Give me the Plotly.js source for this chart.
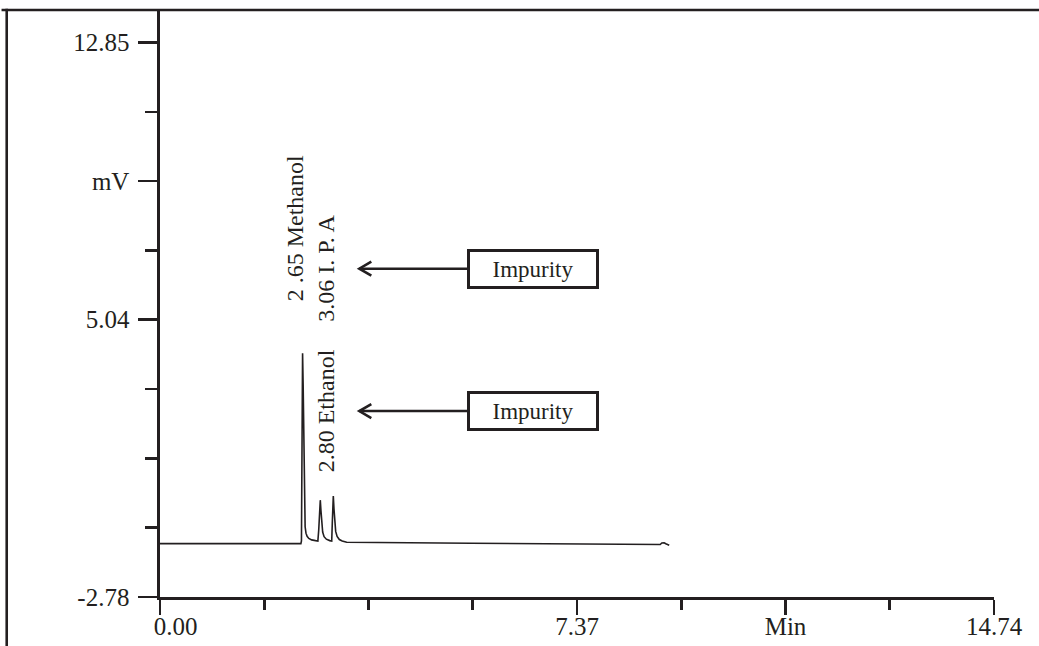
<!DOCTYPE html>
<html>
<head>
<meta charset="utf-8">
<script src="https://cdn.plot.ly/plotly-3.0.1.min.js"></script>
<style>
  html, body { margin: 0; padding: 0; background: #ffffff; }
  #chart { width: 1039px; height: 646px; }
</style>
</head>
<body>
<div id="chart"></div>
<script>
// Chromatogram trace: retention time (min) and detector signal (mV)
const timeMin = [
  0.00, 2.49,
  2.50, 2.505, 2.515, 2.52,
  2.53, 2.545, 2.555, 2.565, 2.58, 2.60, 2.63, 2.68, 2.75, 2.79,
  2.805, 2.82, 2.833, 2.845, 2.86, 2.875, 2.90, 2.94, 3.00, 3.035,
  3.045, 3.055, 3.063, 3.075, 3.09, 3.105, 3.13, 3.17, 3.22, 3.30,
  5.50, 7.80, 8.78, 8.84, 8.87, 8.91, 8.94, 8.98, 9.00
];
const signalMv = [
  -1.275, -1.275,
  -1.20, 1.00, 3.60, 4.09,
  3.20, 0.50, -0.40, -0.80, -0.98, -1.07, -1.13, -1.17, -1.19, -1.20,
  -0.90, -0.30, -0.05, -0.35, -0.75, -0.95, -1.08, -1.15, -1.19, -1.20,
  -0.70, -0.10, 0.07, -0.30, -0.72, -0.93, -1.07, -1.16, -1.20, -1.235,
  -1.265, -1.295, -1.32, -1.30, -1.255, -1.25, -1.28, -1.32, -1.32
];

// Axis ticks
const yMajorVals = [-2.78, 5.04, 8.945, 12.85];
const yMajorText = ['-2.78', '5.04', 'mV', '12.85'];
const yMinorVals = [-0.825, 1.13, 3.085, 6.9925, 10.8975];
const xMajorVals = [0.00, 7.37, 11.055, 14.74];
const xMajorText = ['\u00a0\u00a0\u00a0\u00a0\u00a00.00', '7.37', 'Min', '14.74'];
const xMinorVals = [1.8425, 3.685, 5.5275, 9.2125, 12.8975];

// Peak labels
const peakLabels = ['2 .65 Methanol', '3.06 I. P. A', '2.80 Ethanol'];
const peakLabelX = [2.386, 2.943, 2.934];
const peakLabelY = [7.615, 6.487, 2.455];

// Impurity call-outs
const calloutText = ['Impurity', 'Impurity'];
const calloutBoxX = 6.589;
const calloutTipX = 3.523;
const calloutY = [6.475, 2.463];

const ink = '#231f20';
const serif = '"Liberation Serif", "Times New Roman", serif';

const trace = {
  x: timeMin,
  y: signalMv,
  type: 'scatter',
  mode: 'lines',
  line: { color: ink, width: 1.6, shape: 'linear' },
  hoverinfo: 'skip'
};

const annotations = [];
peakLabels.forEach((t, i) => {
  annotations.push({
    x: peakLabelX[i], y: peakLabelY[i], xref: 'x', yref: 'y',
    text: t, showarrow: false, textangle: -90,
    xanchor: 'center', yanchor: 'middle',
    font: { family: serif, size: 24, color: ink }
  });
});
calloutText.forEach((t, i) => {
  annotations.push({
    x: calloutTipX, y: calloutY[i], xref: 'x', yref: 'y',
    ax: calloutBoxX, ay: calloutY[i], axref: 'x', ayref: 'y',
    text: t, showarrow: true, arrowhead: 0, arrowwidth: 2.6, arrowcolor: ink,
    standoff: 0,
    bordercolor: ink, borderwidth: 3, borderpad: 0,
    width: 126, height: 34, bgcolor: '#ffffff',
    font: { family: serif, size: 23, color: ink }
  });
});

const shapes = [
  // frame around the figure (top and left edges)
  { type: 'line', xref: 'paper', yref: 'paper', x0: -0.19, x1: 1.06, y0: 1, y1: 1,
    line: { color: ink, width: 2.6 } },
  { type: 'line', xref: 'paper', yref: 'paper', x0: -0.1838, x1: -0.1838, y0: 1.002, y1: -0.1,
    line: { color: ink, width: 2.6 } }
];
// open chevron heads on the call-out arrows
calloutY.forEach(yv => {
  shapes.push({
    type: 'path', xref: 'x', yref: 'y',
    xsizemode: 'pixel', ysizemode: 'pixel',
    xanchor: calloutTipX, yanchor: yv,
    path: 'M 12 7 L 0 0 L 12 -7',
    line: { color: ink, width: 2.6 }
  });
});

const layout = {
  width: 1039, height: 646,
  margin: { l: 160, r: 45, t: 10, b: 49, pad: 0 },
  paper_bgcolor: '#ffffff', plot_bgcolor: '#ffffff',
  showlegend: false,
  font: { family: serif, size: 25, color: ink },
  xaxis: {
    range: [0, 14.74],
    showgrid: false, zeroline: false,
    showline: true, linecolor: ink, linewidth: 2.6,
    ticks: 'outside', ticklen: 15, tickwidth: 2.6, tickcolor: ink,
    tickmode: 'array', tickvals: xMajorVals, ticktext: xMajorText,
    ticklabelstandoff: -10,
    tickfont: { family: serif, size: 25, color: ink },
    minor: { tickmode: 'array', tickvals: xMinorVals, ticks: 'outside',
             ticklen: 10, tickwidth: 2.6, tickcolor: ink, showgrid: false },
    fixedrange: true
  },
  yaxis: {
    range: [-2.78, 13.77],
    showgrid: false, zeroline: false,
    showline: true, linecolor: ink, linewidth: 2.6,
    ticks: 'outside', ticklen: 19, tickwidth: 2.6, tickcolor: ink,
    tickmode: 'array', tickvals: yMajorVals, ticktext: yMajorText,
    ticklabelstandoff: 4,
    tickfont: { family: serif, size: 25, color: ink },
    minor: { tickmode: 'array', tickvals: yMinorVals, ticks: 'outside',
             ticklen: 12, tickwidth: 2.6, tickcolor: ink, showgrid: false },
    fixedrange: true
  },
  annotations: annotations,
  shapes: shapes
};

Plotly.newPlot('chart', [trace], layout, { displayModeBar: false, staticPlot: true });
</script>
</body>
</html>
